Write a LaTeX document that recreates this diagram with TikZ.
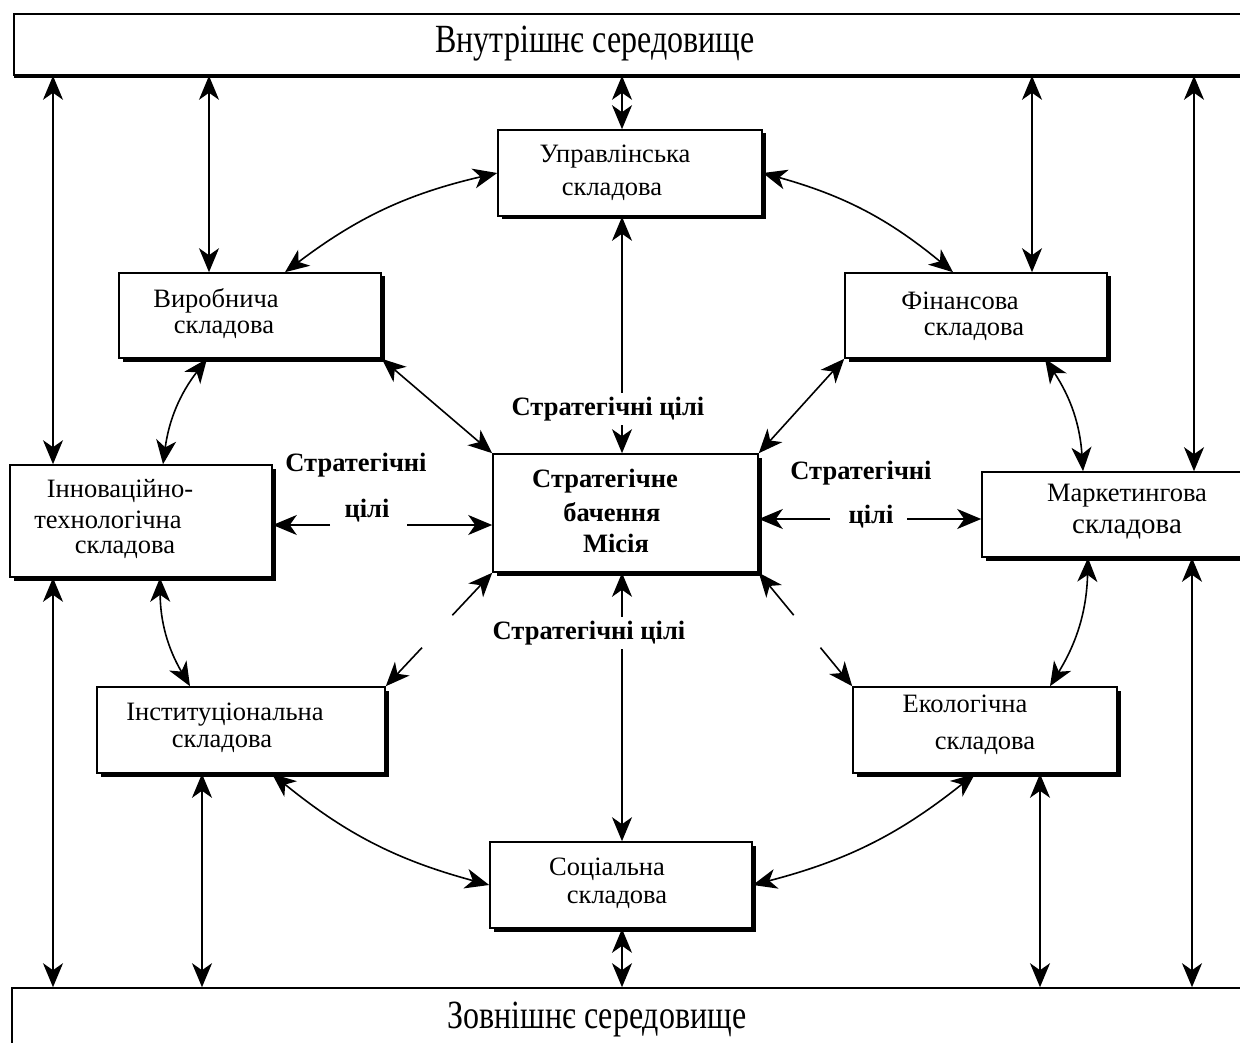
\documentclass[tikz,border=0pt]{standalone}
\usepackage{fontspec}
\setmainfont{Liberation Serif}
\newfontfamily\barfont[FakeStretch=0.8]{Liberation Serif}
\usetikzlibrary{arrows.meta,shadows,calc}
\begin{document}
\begin{tikzpicture}[x=1pt,y=-1pt,
  >={Stealth[length=24pt,width=20pt,inset=7pt]},
  box/.style={draw=black, line width=1.6pt, fill=white, inner sep=0pt,
     drop shadow={shadow xshift=3.5pt, shadow yshift=-3.5pt, fill=black, opacity=1}},
  barbox/.style={draw=black, line width=1.6pt, fill=white, inner sep=0pt},
  txt/.style={inner sep=0pt, font=\fontsize{26.5}{31}\selectfont},
  btxt/.style={inner sep=0pt, font=\fontsize{26.5}{31}\selectfont\bfseries},
  bigtxt/.style={inner sep=0pt, font=\barfont\fontsize{40}{46}\selectfont},
  dar/.style={<->, line width=1.6pt},
  sar/.style={->, line width=1.6pt},
  lab/.style={btxt, fill=white, inner xsep=3pt, inner ysep=4pt}
]
\path[use as bounding box, clip] (0,0) rectangle (1240,1043);
\fill[white] (0,0) rectangle (1240,1043);

% bars
\node[barbox, drop shadow={shadow xshift=0pt, shadow yshift=-3pt, fill=black, opacity=1},
      minimum width=1260pt, minimum height=61pt] (top) at (644,44.5) {};
\node[barbox, minimum width=1260pt, minimum height=92pt] (bot) at (642,1034) {};
\node[bigtxt] (toptxt) at (595,44) {Внутрішнє середовище};
\node[bigtxt] (bottxt) at (597,1019) {Зовнішнє середовище};

% boxes
\node[box, minimum width=264pt, minimum height=86pt] (upr) at (630,173) {};
\node[box, minimum width=262pt, minimum height=85pt] (vyr) at (250,315.5) {};
\node[box, minimum width=262pt, minimum height=85pt] (fin) at (976,315.5) {};
\node[box, minimum width=262pt, minimum height=112pt] (inn) at (141,521) {};
\node[box, minimum width=265pt, minimum height=118pt] (cen) at (625.5,513) {};
\node[box, minimum width=262pt, minimum height=85pt] (mar) at (1113,514.5) {};
\node[box, minimum width=288pt, minimum height=86pt] (ins) at (241,730) {};
\node[box, minimum width=264pt, minimum height=86pt] (eko) at (985,730) {};
\node[box, minimum width=262pt, minimum height=86pt] (soc) at (621,885) {};

% box texts
\node[txt] (t1a) at (615,157) {Управлінська};
\node[txt] (t1b) at (612,192) {складова};
\node[txt] (t2a) at (216,301) {Виробнича};
\node[txt] (t2b) at (224,330) {складова};
\node[txt] (t3a) at (960,301) {Фінансова};
\node[txt] (t3b) at (974,332) {складова};
\node[txt] (t4a) at (120,491) {Інноваційно-};
\node[txt] (t4b) at (108,520) {технологічна};
\node[txt] (t4c) at (125,550) {складова};
\node[btxt] (t5a) at (605,481) {Стратегічне};
\node[btxt] (t5b) at (612,512) {бачення};
\node[btxt] (t5c) at (616,543) {Місія};
\node[txt] (t6a) at (1127,496) {Маркетингова};
\node[txt, font=\fontsize{29}{34}\selectfont] (t6b) at (1127,529) {складова};
\node[txt] (t7a) at (225,715) {Інституціональна};
\node[txt] (t7b) at (222,744) {складова};
\node[txt] (t8a) at (965,704) {Екологічна};
\node[txt] (t8b) at (985,746) {складова};
\node[txt] (t9a) at (607,869) {Соціальна};
\node[txt] (t9b) at (617,900) {складова};

% column coordinates
\coordinate (c1) at (53,0);
\coordinate (c2) at (209,0);
\coordinate (c3) at (622,0);
\coordinate (c4) at (1032,0);
\coordinate (c5) at (1194,0);
\coordinate (c6) at (202,0);
\coordinate (c7) at (1040,0);
\coordinate (c8) at (1192,0);

% vertical connectors to the bars
\draw[dar] (top.south -| c1) -- (inn.north -| c1);
\draw[dar] (top.south -| c2) -- (vyr.north -| c2);
\draw[dar] (top.south -| c3) -- (upr.north -| c3);
\draw[dar] (top.south -| c4) -- (fin.north -| c4);
\draw[dar] (top.south -| c5) -- (mar.north -| c5);
\draw[dar] (inn.south -| c1) -- (bot.north -| c1);
\draw[dar] (ins.south -| c6) -- (bot.north -| c6);
\draw[dar] (soc.south -| c3) -- (bot.north -| c3);
\draw[dar] (eko.south -| c7) -- (bot.north -| c7);
\draw[dar] (mar.south -| c8) -- (bot.north -| c8);

% ring of curved connectors
\draw[dar] ($(vyr.north)+(35,0)$) to[bend left=12] (upr.west);
\draw[dar] (upr.east) to[bend left=12] ($(fin.north)+(-23,0)$);
\draw[dar] ($(fin.south)+(69,0)$) to[bend left=15] ($(mar.north)+(-30,0)$);
\draw[dar] ($(mar.south)+(-25,0)$) to[bend left=15] ($(eko.north)+(65,0)$);
\draw[dar] ($(eko.south)+(-10,0)$) to[bend left=12] (soc.east);
\draw[dar] (soc.west) to[bend left=12] ($(ins.south)+(31,0)$);
\draw[dar] ($(ins.north)+(-51,0)$) to[bend left=15] ($(inn.south)+(19,0)$);
\draw[dar] ($(inn.north)+(22,0)$) to[bend left=15] ($(vyr.south)+(-43,0)$);

% connectors to the centre
\draw[dar] (upr.south -| c3) -- node[lab, pos=0.815, xshift=-14pt] (l1) {Стратегічні цілі} (cen.north -| c3);
\draw[dar] (cen.south -| c3) -- node[lab, pos=0.226, xshift=-33pt] (l2) {Стратегічні цілі} (soc.north -| c3);
\draw[dar] (vyr.south east) -- (cen.north west);
\draw[dar] (fin.south west) -- (cen.north east);

\coordinate (dl1) at ($(cen.south west)!0.374!(ins.north east)$);
\coordinate (dl2) at ($(cen.south west)!0.66!(ins.north east)$);
\draw[sar] (dl1) -- (cen.south west);
\draw[sar] (dl2) -- (ins.north east);
\coordinate (dr1) at ($(cen.south east)!0.374!(eko.north west)$);
\coordinate (dr2) at ($(cen.south east)!0.66!(eko.north west)$);
\draw[sar] (dr1) -- (cen.south east);
\draw[sar] (dr2) -- (eko.north west);

\coordinate (hl1) at (330,525);
\coordinate (hl2) at (407,525);
\draw[sar] (hl1) -- (hl1 -| inn.east);
\draw[sar] (hl2) -- (hl2 -| cen.west);
\coordinate (hr1) at (830,519);
\coordinate (hr2) at (907,519);
\draw[sar] (hr1) -- (hr1 -| cen.east);
\draw[sar] (hr2) -- (hr2 -| mar.west);

\node[btxt] (l3a) at (356,465) {Стратегічні};
\node[btxt] (l3b) at (367,511) {цілі};
\node[btxt] (l4a) at (861,473) {Стратегічні};
\node[btxt] (l4b) at (871,517) {цілі};
\end{tikzpicture}
\end{document}
